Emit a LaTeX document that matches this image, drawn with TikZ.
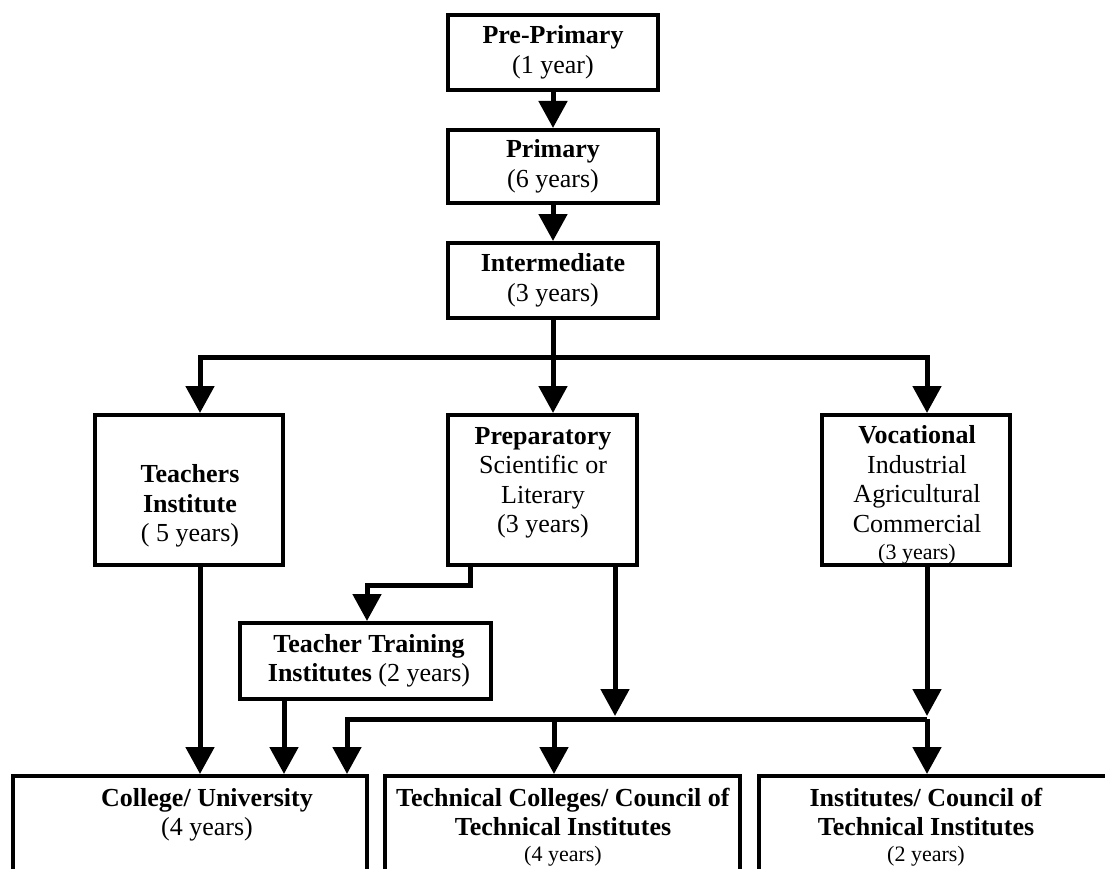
\documentclass[tikz,border=0pt]{standalone}
\usepackage{fontspec}
\setmainfont{Liberation Serif}
\usetikzlibrary{arrows.meta}
\begin{document}
\begin{tikzpicture}[x=1pt,y=-1pt,
  box/.style={draw, line width=4pt, inner sep=0pt, align=center, font=\fontsize{26}{29.5}\selectfont},
  lbl/.style={inner sep=0pt, align=center, font=\fontsize{26}{29.5}\selectfont},
  link/.style={line width=5pt},
  conn/.style={line width=5pt, -{Triangle[width=28pt,length=27pt]}},
]
\useasboundingbox (0,0) rectangle (1105,869);
\clip (0,0) rectangle (1105,869);

% boxes
\node[box, minimum width=210pt, minimum height=75pt] (pre) at (553,52.5) {\textbf{Pre-Primary}\\(1 year)};
\node[box, minimum width=210pt, minimum height=73pt] (prim) at (553,166.5) {\textbf{Primary}\\(6 years)};
\node[box, minimum width=210pt, minimum height=75pt] (inter) at (553,280.5) {\textbf{Intermediate}\\(3 years)};

\node[box, minimum width=188pt, minimum height=150pt] (teach) at (189,490) {};
\node[box, minimum width=189pt, minimum height=150pt] (prep) at (542.5,490) {};
\node[box, minimum width=188pt, minimum height=150pt] (voc) at (916,490) {};
\node[box, minimum width=251pt, minimum height=76pt] (tt) at (365.5,661) {};
\node[box, minimum width=354pt, minimum height=124pt] (coll) at (190,838) {};
\node[box, minimum width=355pt, minimum height=124pt] (tech) at (562.5,838) {};
\node[box, minimum width=381pt, minimum height=124pt] (inst) at (949.5,838) {};

% texts
\node[lbl] (teachT) at (190,506) {\textbf{Teachers}\\\textbf{Institute}\\( 5 years)};
\node[lbl] (prepT) at (543,483) {\textbf{Preparatory}\\Scientific or\\Literary\\(3 years)};
\node[lbl] (vocT) at (917,495) {\textbf{Vocational}\\Industrial\\Agricultural\\Commercial\\[-2pt]{\fontsize{22}{29.5}\selectfont (3 years)}};
\node[lbl] (ttT) at (369,661) {\textbf{Teacher Training}\\\textbf{Institutes} (2 years)};
\node[lbl] (collT) at (207,815) {\textbf{College/ University}\\(4 years)};
\node[lbl] (techT) at (563,827) {\textbf{Technical Colleges/ Council of}\\\textbf{Technical Institutes}\\[-4pt]{\fontsize{22}{29.5}\selectfont (4 years)}};
\node[lbl] (instT) at (926,827) {\textbf{Institutes/ Council of}\\\textbf{Technical Institutes}\\[-4pt]{\fontsize{22}{29.5}\selectfont (2 years)}};

% junction coordinates
\coordinate (j1) at (553,357);
\coordinate (j1l) at (200,357);
\coordinate (j1r) at (927,357);
\coordinate (pA) at (470,585);
\coordinate (pB) at (367,585);
\coordinate (xT) at (284,0);
\coordinate (j2l) at (347,719);
\coordinate (j2m) at (554,719);
\coordinate (j2p) at (615,716);
\coordinate (j2r) at (927,719);
\coordinate (j2rt) at (927,716);

% connectors
\draw[conn] (pre.south) -- (prim.north);
\draw[conn] (prim.south) -- (inter.north);
\draw[link] (inter.south) -- (j1);
\draw[conn] (j1) -- (j1l) -- (teach.north -| j1l);
\draw[conn] (j1) -- (prep.north -| j1);
\draw[conn] (j1) -- (j1r) -- (voc.north -| j1r);

\draw[conn] (prep.south -| pA) -- (pA) -- (pB) -- (tt.north -| pB);
\draw[conn] (teach.south -| j1l) -- (coll.north -| j1l);
\draw[conn] (tt.south -| xT) -- (coll.north -| xT);
\draw[conn] (prep.south -| j2p) -- (j2p);
\draw[conn] (voc.south -| j2rt) -- (j2rt);

\draw[conn] (j2r) -- (j2l) -- (coll.north -| j2l);
\draw[conn] (j2m) -- (tech.north -| j2m);
\draw[conn] (j2r) -- (inst.north -| j2r);
\end{tikzpicture}
\end{document}
